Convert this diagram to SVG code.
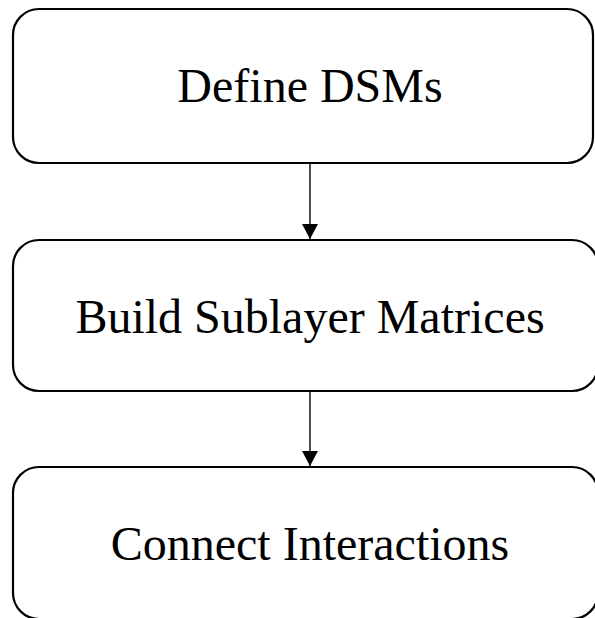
<svg xmlns="http://www.w3.org/2000/svg" width="595" height="618" viewBox="0 0 595 618">
  <style>
    .box { fill: #ffffff; stroke: #000000; stroke-width: 2.2; }
    .label { font-family: "Liberation Serif", "Times New Roman", serif; font-size: 48px; fill: #000000; text-anchor: middle; }
    .edge { stroke: #000000; stroke-width: 1.4; fill: none; }
  </style>
  <defs>
    <marker id="arrow" markerUnits="userSpaceOnUse" markerWidth="16" markerHeight="17" refX="15" refY="8" orient="auto">
      <path d="M0,0 L15,8 L0,16 Z" fill="#000000"/>
    </marker>
  </defs>
  <rect width="595" height="618" fill="#ffffff"/>

  <g id="node-define">
    <rect class="box" x="13" y="9" width="580" height="154" rx="26" ry="26"/>
    <text class="label" x="310" y="102">Define DSMs</text>
  </g>

  <g id="node-build">
    <rect class="box" x="13" y="240" width="585" height="151" rx="26" ry="26"/>
    <text class="label" x="310" y="333">Build Sublayer Matrices</text>
  </g>

  <g id="node-connect">
    <rect class="box" x="13" y="467" width="585" height="152" rx="26" ry="26"/>
    <text class="label" x="310" y="560">Connect Interactions</text>
  </g>

  <g id="connectors">
    <line class="edge" x1="310" y1="164" x2="310" y2="239" marker-end="url(#arrow)"/>
    <line class="edge" x1="310" y1="392" x2="310" y2="466" marker-end="url(#arrow)"/>
  </g>
</svg>
